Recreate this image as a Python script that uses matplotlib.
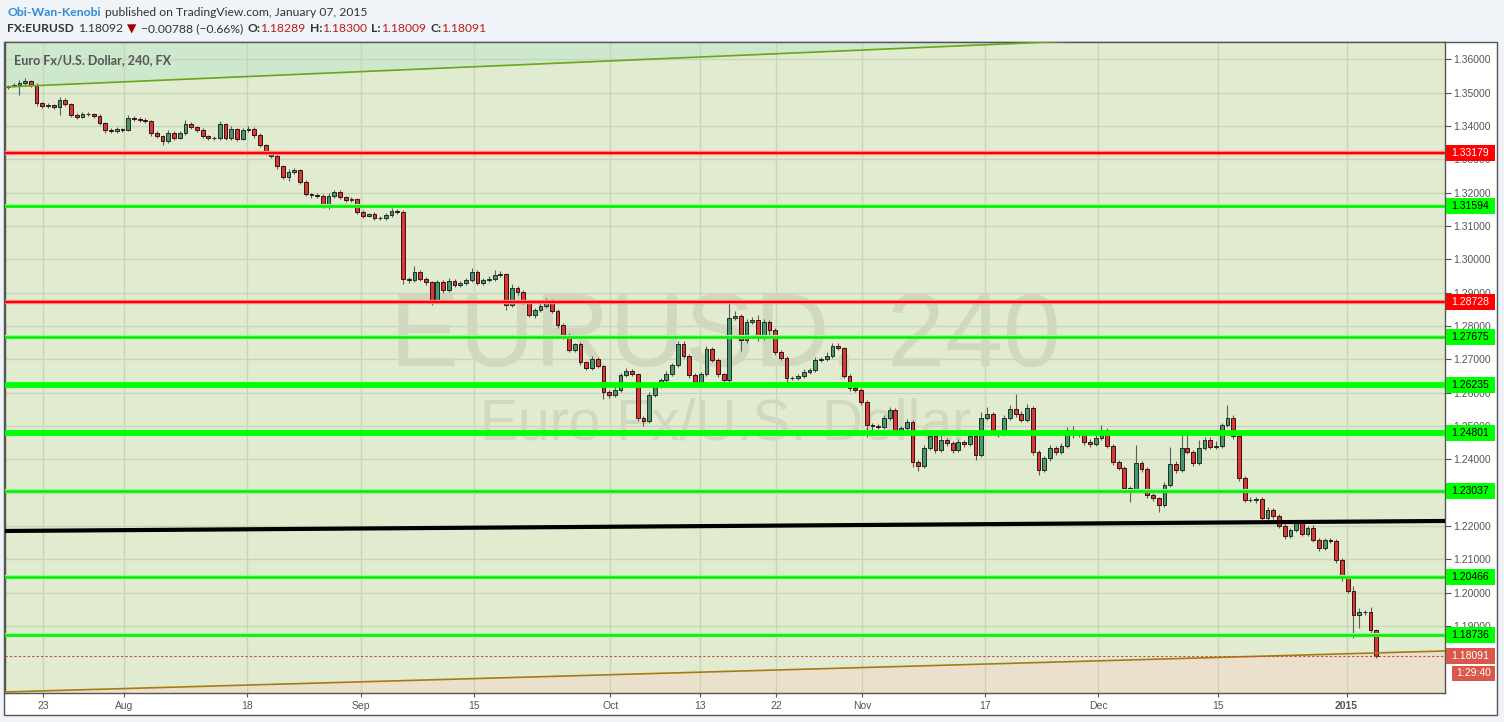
import numpy as np
import matplotlib.pyplot as plt
import matplotlib.transforms as mtransforms
from matplotlib.patches import Rectangle
from matplotlib.offsetbox import TextArea, HPacker, AnchoredOffsetbox

# EURUSD, half-day candles (close prices)
closes = [
    1.3520, 1.3523, 1.3529, 1.3535, 1.3523, 1.3469, 1.3460, 1.3463, 1.3457, 1.3478,
    1.3466, 1.3433, 1.3427, 1.3436, 1.3436, 1.3430, 1.3409, 1.3388, 1.3385, 1.3391,
    1.3388, 1.3424, 1.3421, 1.3418, 1.3415, 1.3379, 1.3370, 1.3355, 1.3379, 1.3364,
    1.3379, 1.3406, 1.3397, 1.3388, 1.3370, 1.3364, 1.3364, 1.3406, 1.3364, 1.3391,
    1.3361, 1.3388, 1.3391, 1.3373, 1.3343, 1.3319, 1.3310, 1.3280, 1.3247, 1.3262,
    1.3268, 1.3232, 1.3196, 1.3193, 1.3190, 1.3163, 1.3190, 1.3202, 1.3187, 1.3178,
    1.3181, 1.3142, 1.3130, 1.3136, 1.3124, 1.3124, 1.3133, 1.3145, 1.3142, 1.2941,
    1.2938, 1.2962, 1.2941, 1.2932, 1.2878, 1.2932, 1.2908, 1.2935, 1.2923, 1.2929,
    1.2938, 1.2962, 1.2929, 1.2938, 1.2941, 1.2953, 1.2956, 1.2863, 1.2914, 1.2902,
    1.2872, 1.2833, 1.2848, 1.2860, 1.2878, 1.2845, 1.2803, 1.2773, 1.2728, 1.2746,
    1.2692, 1.2674, 1.2701, 1.2680, 1.2602, 1.2593, 1.2608, 1.2653, 1.2665, 1.2656,
    1.2524, 1.2515, 1.2593, 1.2620, 1.2638, 1.2656, 1.2683, 1.2746, 1.2710, 1.2653,
    1.2632, 1.2656, 1.2731, 1.2698, 1.2656, 1.2638, 1.2824, 1.2830, 1.2758, 1.2812,
    1.2818, 1.2764, 1.2812, 1.2788, 1.2722, 1.2704, 1.2644, 1.2644, 1.2650, 1.2662,
    1.2668, 1.2698, 1.2701, 1.2710, 1.2740, 1.2734, 1.2650, 1.2614, 1.2608, 1.2572,
    1.2503, 1.2500, 1.2497, 1.2524, 1.2548, 1.2488, 1.2494, 1.2512, 1.2392, 1.2380,
    1.2434, 1.2470, 1.2428, 1.2458, 1.2449, 1.2428, 1.2452, 1.2446, 1.2470, 1.2413,
    1.2524, 1.2536, 1.2482, 1.2476, 1.2524, 1.2551, 1.2536, 1.2518, 1.2554, 1.2422,
    1.2368, 1.2404, 1.2434, 1.2422, 1.2440, 1.2488, 1.2473, 1.2479, 1.2452, 1.2446,
    1.2464, 1.2488, 1.2440, 1.2392, 1.2374, 1.2314, 1.2311, 1.2389, 1.2371, 1.2293,
    1.2284, 1.2263, 1.2323, 1.2386, 1.2368, 1.2434, 1.2422, 1.2389, 1.2434, 1.2458,
    1.2437, 1.2440, 1.2503, 1.2524, 1.2470, 1.2344, 1.2278, 1.2278, 1.2281, 1.2224,
    1.2248, 1.2230, 1.2200, 1.2170, 1.2188, 1.2209, 1.2176, 1.2194, 1.2158, 1.2134,
    1.2158, 1.2155, 1.2098, 1.2044, 1.2005, 1.1933, 1.1942, 1.1942, 1.1888, 1.18091,
]
first_open = 1.3516

# wick lengths beyond the body, in pips
wick_up = [
    4, 6, 9, 8, 4, 5, 4, 5, 4, 8,
    5, 4, 5, 5, 6, 4, 5, 4, 6, 5,
    4, 9, 5, 6, 5, 4, 5, 4, 8, 5,
    5, 12, 6, 4, 5, 4, 6, 10, 4, 8,
    4, 6, 8, 5, 6, 4, 5, 6, 4, 8,
    6, 4, 5, 4, 6, 5, 8, 6, 5, 4,
    5, 4, 5, 4, 5, 6, 6, 8, 5, 6,
    6, 18, 6, 5, 4, 6, 5, 9, 6, 5,
    6, 12, 5, 6, 8, 14, 10, 4, 12, 6,
    5, 6, 6, 14, 6, 4, 5, 5, 6, 4,
    5, 4, 8, 5, 4, 6, 8, 6, 8, 5,
    4, 6, 8, 6, 5, 8, 6, 9, 8, 5,
    6, 5, 8, 6, 5, 4, 55, 15, 6, 10,
    8, 15, 8, 6, 5, 6, 5, 6, 6, 8,
    6, 10, 6, 12, 8, 9, 4, 6, 6, 6,
    5, 6, 6, 8, 9, 6, 6, 8, 5, 6,
    8, 9, 6, 14, 6, 6, 9, 6, 9, 5,
    18, 20, 6, 5, 8, 12, 45, 10, 12, 5,
    6, 6, 8, 6, 9, 8, 12, 6, 6, 8,
    10, 14, 6, 6, 6, 6, 6, 55, 6, 5,
    6, 4, 8, 50, 8, 55, 40, 6, 25, 10,
    8, 15, 6, 40, 8, 5, 6, 8, 6, 5,
    8, 6, 6, 5, 6, 8, 5, 6, 8, 5,
    6, 6, 5, 6, 5, 15, 12, 6, 15, 4,
]
wick_dn = [
    5, 4, 30, 6, 5, 8, 5, 6, 5, 25,
    5, 6, 5, 4, 5, 6, 5, 8, 6, 5,
    5, 4, 6, 5, 6, 8, 6, 12, 5, 6,
    4, 6, 5, 6, 5, 6, 5, 6, 5, 6,
    5, 4, 6, 8, 6, 6, 5, 8, 6, 12,
    6, 5, 6, 10, 5, 8, 12, 5, 6, 5,
    6, 6, 5, 4, 6, 5, 5, 6, 5, 15,
    8, 6, 6, 8, 15, 6, 10, 5, 6, 5,
    5, 6, 5, 6, 5, 6, 5, 15, 6, 8,
    6, 6, 8, 5, 6, 6, 8, 12, 6, 5,
    10, 5, 6, 5, 20, 8, 6, 5, 6, 5,
    10, 15, 6, 5, 6, 5, 6, 5, 6, 10,
    6, 12, 5, 6, 8, 15, 6, 6, 33, 8,
    6, 8, 6, 15, 8, 6, 20, 6, 6, 5,
    5, 6, 6, 5, 6, 5, 6, 8, 6, 8,
    36, 15, 6, 5, 6, 8, 6, 5, 15, 15,
    6, 6, 8, 6, 8, 10, 6, 8, 6, 15,
    6, 6, 10, 8, 6, 6, 8, 6, 6, 8,
    15, 6, 8, 10, 6, 6, 8, 6, 10, 8,
    6, 6, 6, 8, 6, 10, 40, 6, 8, 8,
    8, 20, 6, 6, 8, 6, 6, 8, 6, 6,
    6, 6, 6, 6, 8, 10, 6, 6, 8, 6,
    6, 8, 6, 8, 6, 6, 6, 6, 6, 8,
    6, 6, 8, 8, 6, 70, 40, 8, 10, 4,
]

# horizontal levels drawn on the chart
red_levels = [1.33179, 1.28728]
green_levels = [1.31594, 1.27675, 1.23037, 1.20466, 1.18736]
thick_green_levels = [1.26235, 1.24801]
last_price = 1.18091
countdown = '1:29:40'

# trend lines: (day, price) at the left and right edge of the chart
upper_trend = [(-0.26, 1.3517), (125.5, 1.3703)]
lower_trend = [(-0.26, 1.1702), (125.5, 1.1825)]
black_trend = [(-0.26, 1.2185), (125.5, 1.2215)]

# time axis (trading-day index of each label)
tick_labels = ['23', 'Aug', '18', 'Sep', '15', 'Oct', '13', '22', 'Nov', '17', 'Dec', '15', '2015']
tick_days = [3.06, 10.13, 20.87, 30.83, 40.7, 52.6, 60.4, 67.1, 74.6, 85.3, 95.2, 105.7, 116.9]
price_ticks = [1.19, 1.20, 1.21, 1.22, 1.23, 1.24, 1.25, 1.26, 1.27, 1.28, 1.29,
               1.30, 1.31, 1.32, 1.33, 1.34, 1.35, 1.36]

W, H = 1504, 722
fig = plt.figure(figsize=(W / 100, H / 100), dpi=100, facecolor='#f0f3f7')
fig.patches.append(Rectangle((4 / W, 7 / H), 1493 / W, 673 / H, transform=fig.transFigure,
                             facecolor='white', edgecolor='#555555', lw=1, zorder=-5))
ax = fig.add_axes([5 / W, 29 / H, 1440 / W, 651 / H])
ax.set_facecolor('#e1ebd0')
ax.set_xlim(-0.26, 125.5)
ax.set_ylim(1.16989, 1.36519)

# shaded zones beyond the channel lines
(ux0, uy0), (ux1, uy1) = upper_trend
ax.fill_between([ux0, ux1], [uy0, uy1], 1.4, color='#cde8cc', lw=0, zorder=0.2)
(lx0, ly0), (lx1, ly1) = lower_trend
ax.fill_between([lx0, lx1], [ly0, ly1], 1.1, color='#ebe0cb', lw=0, zorder=0.2)

# watermark
ax.text(0.5, 0.544, 'EURUSD, 240', transform=ax.transAxes, ha='center', va='center',
        fontsize=75, color='#d0d9c0', family='Liberation Sans', zorder=0.6)
ax.text(0.5, 0.412, 'Euro Fx/U.S. Dollar', transform=ax.transAxes, ha='center', va='center',
        fontsize=41, color='#d0d9c0', family='Liberation Sans', zorder=0.6)
ax.text(0.00625, (693 - 60) / 651, 'Euro Fx/U.S. Dollar, 240, FX', transform=ax.transAxes,
        va='center', ha='left', fontsize=9, fontweight='bold', color='#555555',
        family='Lato', zorder=6)

# candles
c = np.array(closes)
o = np.r_[first_open, c[:-1]]
hi = np.maximum(o, c) + np.array(wick_up) * 1e-4
lo = np.minimum(o, c) - np.array(wick_dn) * 1e-4
x = np.arange(len(c)) * 0.5
body = c - o
body = np.where(np.abs(body) < 0.00012, np.where(body >= 0, 0.00012, -0.00012), body)
up = c >= o
ax.vlines(x, lo, hi, color='#5c5c5c', lw=0.8, zorder=3)
ax.bar(x[up], body[up], bottom=o[up], width=0.33, color='#4c9570', edgecolor='#1e2e24',
       lw=0.7, zorder=4)
ax.bar(x[~up], body[~up], bottom=o[~up], width=0.33, color='#d83a33', edgecolor='#3a1010',
       lw=0.7, zorder=4)

# channel and support / resistance lines
ax.plot([ux0, ux1], [uy0, uy1], color='#6aa51c', lw=1.2, zorder=5)
ax.plot([lx0, lx1], [ly0, ly1], color='#a97a12', lw=1.2, zorder=5)
ax.plot(*zip(*black_trend), color='black', lw=3, zorder=5, solid_capstyle='butt')
for lv in red_levels:
    ax.axhline(lv, color='#ff9090', lw=3.2, zorder=5)
    ax.axhline(lv, color='#ff0000', lw=1.6, zorder=5)
for lv in green_levels:
    ax.axhline(lv, color='#8cff8c', lw=3.0, zorder=5)
    ax.axhline(lv, color='#00ee00', lw=1.8, zorder=5)
for lv in thick_green_levels:
    ax.axhline(lv, color='#00ff00', lw=4.2, zorder=5)
ax.axhline(last_price, color='#c8463a', lw=0.8, ls=(0, (2, 2)), zorder=5)

# axes styling
ax.set_axisbelow(True)
ax.grid(True, color='#cad4bb', lw=1)
ax.set_xticks(tick_days)
ax.set_xticklabels(tick_labels)
ax.set_yticks(price_ticks)
ax.set_yticklabels([f'{v:.5f}' for v in price_ticks])
ax.yaxis.tick_right()
ax.tick_params(axis='y', labelsize=7.5, labelcolor='#555555', color='#555555', length=4, pad=2)
ax.tick_params(axis='x', labelsize=7.5, labelcolor='#555555', color='#555555', length=3, pad=3)
for lab in ax.get_xticklabels() + ax.get_yticklabels():
    lab.set_family('Liberation Sans')
for lab in ax.get_xticklabels():
    if lab.get_text() == '2015':
        lab.set_fontweight('bold')
for sp in ax.spines.values():
    sp.set_color('#555555')
    sp.set_linewidth(1)

# price tags on the right scale
tr = mtransforms.blended_transform_factory(ax.transAxes, ax.transData)
px_price = (1.36519 - 1.16989) / 651


def tag(price, text, face, color, x0=1.0007, x1=1.0347, h=16, yc=None):
    yc = price if yc is None else yc
    ax.add_patch(Rectangle((x0, yc - h / 2 * px_price), x1 - x0, h * px_price, transform=tr,
                           facecolor=face, edgecolor='none', clip_on=False, zorder=10))
    ax.text((x0 + x1) / 2, yc, text, transform=tr, ha='center', va='center', fontsize=7.5,
            color=color, family='Liberation Sans', clip_on=False, zorder=11)


for lv in red_levels:
    tag(lv, f'{lv:.5f}', '#ff0000', 'white')
for lv in green_levels + thick_green_levels:
    tag(lv, f'{lv:.5f}', '#00ff00', 'black')
tag(last_price, f'{last_price:.5f}', '#d9574b', 'white')
tag(last_price, countdown, '#d9574b', 'white', x0=1.0049, h=15, yc=last_price - 17 * px_price)

# header
fam = ['Lato', 'DejaVu Sans']


def header(groups, ycenter, size):
    outer = []
    for grp in groups:
        kids = [TextArea(s, textprops=dict(color=col, fontsize=size, fontweight=w, family=fam))
                for s, col, w in grp]
        outer.append(HPacker(children=kids, align='baseline', pad=0, sep=0))
    pack = HPacker(children=outer, align='baseline', pad=0, sep=3)
    box = AnchoredOffsetbox(loc='center left', child=pack, pad=0, borderpad=0, frameon=False,
                            bbox_to_anchor=(7 / W, 1 - ycenter / H), bbox_transform=fig.transFigure)
    fig.add_artist(box)


dark, red = '#333333', '#b71c1c'
header([[('Obi-Wan-Kenobi', '#2f8ad0', 'bold')],
        [('published on TradingView.com, January 07, 2015', dark, 'normal')]], 12, 8.7)
header([[('FX:EURUSD', dark, 'bold')], [('1.18092', dark, 'normal')],
        [('\u25bc', '#a30000', 'normal')], [('\u22120.00788 (\u22120.66%)', dark, 'normal')],
        [('O:', dark, 'bold'), ('1.18289', red, 'normal')],
        [('H:', dark, 'bold'), ('1.18300', red, 'normal')],
        [('L:', dark, 'bold'), ('1.18009', red, 'normal')],
        [('C:', dark, 'bold'), ('1.18091', red, 'normal')]], 29, 8.7)

fig.savefig('out.png', dpi=100, facecolor=fig.get_facecolor())
